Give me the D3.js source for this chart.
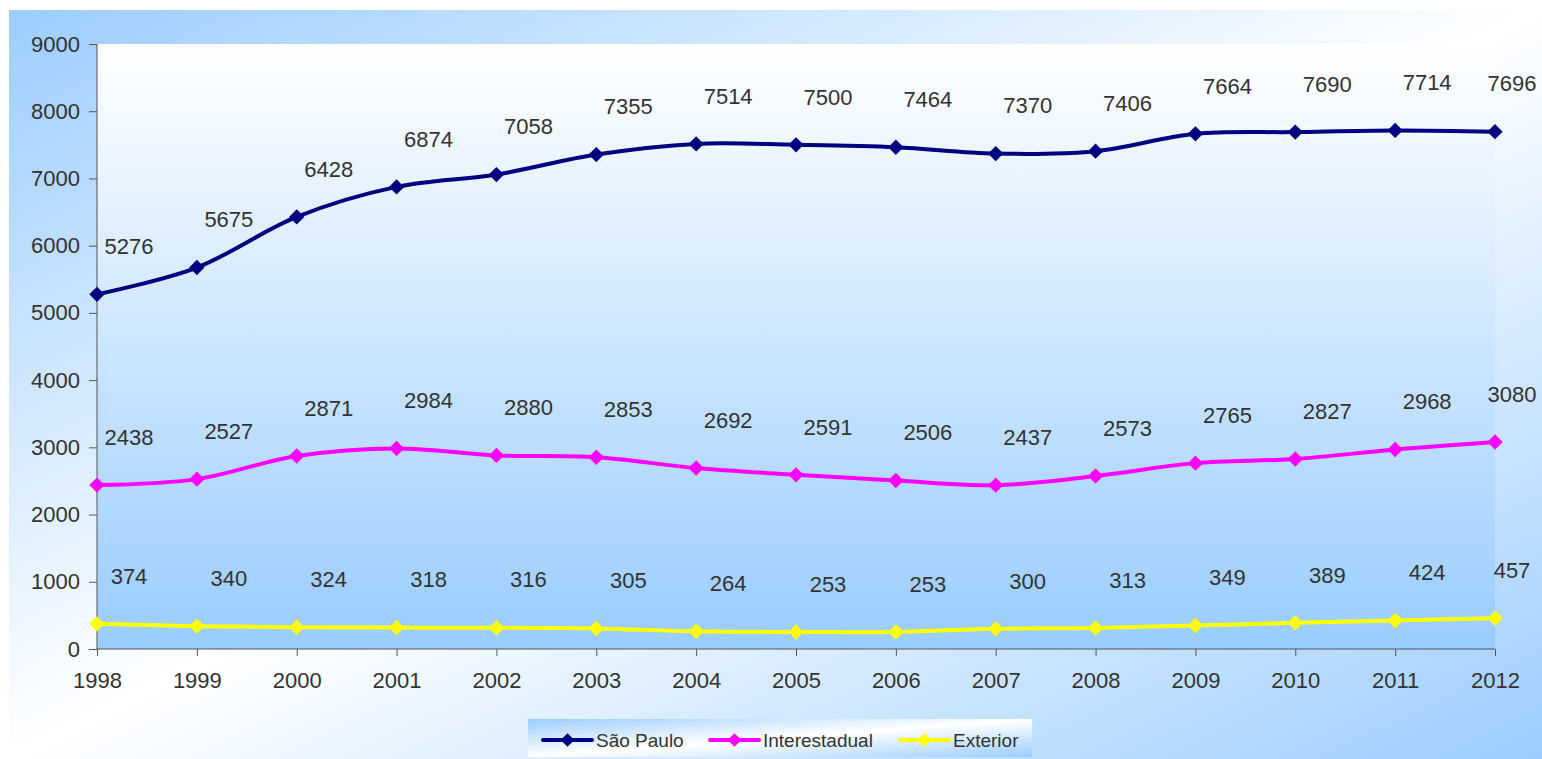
<!DOCTYPE html>
<html>
<head>
<meta charset="utf-8">
<script src="https://cdn.jsdelivr.net/npm/d3@7"></script>
<style>
  body { margin: 0; background: #fff; }
  text { font-family: "Liberation Sans", Arial, sans-serif; fill: #333; }
</style>
</head>
<body>
<svg width="1542" height="759"></svg>
<script>
// Data
const years = [1998, 1999, 2000, 2001, 2002, 2003, 2004, 2005, 2006, 2007, 2008, 2009, 2010, 2011, 2012];
const saoPaulo = [5276, 5675, 6428, 6874, 7058, 7355, 7514, 7500, 7464, 7370, 7406, 7664, 7690, 7714, 7696];
const interestadual = [2438, 2527, 2871, 2984, 2880, 2853, 2692, 2591, 2506, 2437, 2573, 2765, 2827, 2968, 3080];
const exterior = [374, 340, 324, 318, 316, 305, 264, 253, 253, 300, 313, 349, 389, 424, 457];
const seriesNames = ["São Paulo", "Interestadual", "Exterior"];
const seriesColors = ["#000080", "#ff00ff", "#ffff00"];
const yTicks = [0, 1000, 2000, 3000, 4000, 5000, 6000, 7000, 8000, 9000];

const series = [saoPaulo, interestadual, exterior].map((vals, i) => ({
    name: seriesNames[i],
    color: seriesColors[i],
    values: vals.map((v, j) => ({ year: years[j], value: v }))
}));

const svg = d3.select("svg");
const defs = svg.append("defs");

// Outer background: diagonal blue -> white -> blue
const outerGrad = defs.append("linearGradient")
    .attr("id", "outerGrad")
    .attr("x1", 0).attr("y1", 0).attr("x2", 1).attr("y2", 1);
outerGrad.append("stop").attr("offset", "0%").attr("stop-color", "#9ccdff");
outerGrad.append("stop").attr("offset", "50%").attr("stop-color", "#ffffff");
outerGrad.append("stop").attr("offset", "100%").attr("stop-color", "#9ccdff");

// Plot area: white at top, blue at bottom
const plotGrad = defs.append("linearGradient")
    .attr("id", "plotGrad")
    .attr("x1", 0).attr("y1", 0).attr("x2", 0).attr("y2", 1);
plotGrad.append("stop").attr("offset", "0%").attr("stop-color", "#ffffff");
plotGrad.append("stop").attr("offset", "100%").attr("stop-color", "#99ccff");

svg.append("rect")
    .attr("x", 9).attr("y", 10)
    .attr("width", 1533).attr("height", 749)
    .attr("fill", "url(#outerGrad)");

const margin = { left: 97, right: 46, top: 44, bottom: 110 };
const plotW = 1542 - margin.left - margin.right;
const plotH = 759 - margin.top - margin.bottom;

const g = svg.append("g")
    .attr("transform", `translate(${margin.left},${margin.top})`);

const x = d3.scaleLinear()
    .domain([years[0], years[years.length - 1]])
    .range([0, plotW - 1]);

const y = d3.scaleLinear()
    .domain([0, 9000])
    .range([plotH, 0]);

g.append("rect")
    .attr("x", 0).attr("y", 0)
    .attr("width", x(years[years.length - 1])).attr("height", plotH)
    .attr("fill", "url(#plotGrad)");

// Axes
const yAxis = g.append("g")
    .call(d3.axisLeft(y).tickValues(yTicks).tickSize(8).tickPadding(9).tickFormat(d => d));
yAxis.select(".domain").attr("stroke", "#555").attr("d", `M0,${plotH}V0`);
yAxis.selectAll(".tick line").attr("stroke", "#555");
yAxis.selectAll("text").style("font-size", "22px").attr("fill", "#333");

const xAxis = g.append("g")
    .attr("transform", `translate(0,${plotH})`)
    .call(d3.axisBottom(x).tickValues(years).tickSize(7).tickPadding(16).tickFormat(d => d));
xAxis.select(".domain").attr("stroke", "#555").attr("d", `M0,0H${x(years[years.length - 1])}`);
xAxis.selectAll(".tick line").attr("stroke", "#555");
xAxis.selectAll("text").style("font-size", "22px").attr("fill", "#333");

// Lines
const line = d3.line()
    .x(d => x(d.year))
    .y(d => y(d.value))
    .curve(d3.curveCatmullRom.alpha(0.5));

const diamond = d3.symbol().type(d3.symbolDiamond2).size(150);
const labelMaxX = 1512 - margin.left; // keep the last labels inside the chart

series.forEach(s => {
    g.append("path")
        .datum(s.values)
        .attr("fill", "none")
        .attr("stroke", s.color)
        .attr("stroke-width", 4)
        .attr("d", line);

    g.selectAll(null)
        .data(s.values)
        .enter()
        .append("path")
        .attr("d", diamond)
        .attr("transform", d => `translate(${x(d.year)},${y(d.value)})`)
        .attr("fill", s.color);

    g.selectAll(null)
        .data(s.values)
        .enter()
        .append("text")
        .attr("x", d => Math.min(x(d.year) + 32, labelMaxX))
        .attr("y", d => y(d.value) - 48)
        .attr("dy", "0.35em")
        .attr("text-anchor", "middle")
        .style("font-size", "22px")
        .text(d => d.value);
});

// Legend
const legendBox = { x: 528, y: 719, w: 504, h: 38 };
svg.append("rect")
    .attr("x", legendBox.x).attr("y", legendBox.y)
    .attr("width", legendBox.w).attr("height", legendBox.h)
    .attr("fill", "url(#outerGrad)");

const legendX = [543, 710, 900];
const legend = svg.append("g");
series.forEach((s, i) => {
    const lg = legend.append("g")
        .attr("transform", `translate(${legendX[i]},${legendBox.y + 21})`);
    lg.append("line")
        .attr("x1", 0).attr("x2", 49)
        .attr("stroke", s.color).attr("stroke-width", 4)
        .attr("stroke-linecap", "round");
    lg.append("path")
        .attr("d", d3.symbol().type(d3.symbolDiamond2).size(120))
        .attr("transform", "translate(24.5,0)")
        .attr("fill", s.color);
    lg.append("text")
        .attr("x", 53)
        .attr("dy", "0.35em")
        .style("font-size", "19px")
        .text(s.name);
});
</script>
</body>
</html>
